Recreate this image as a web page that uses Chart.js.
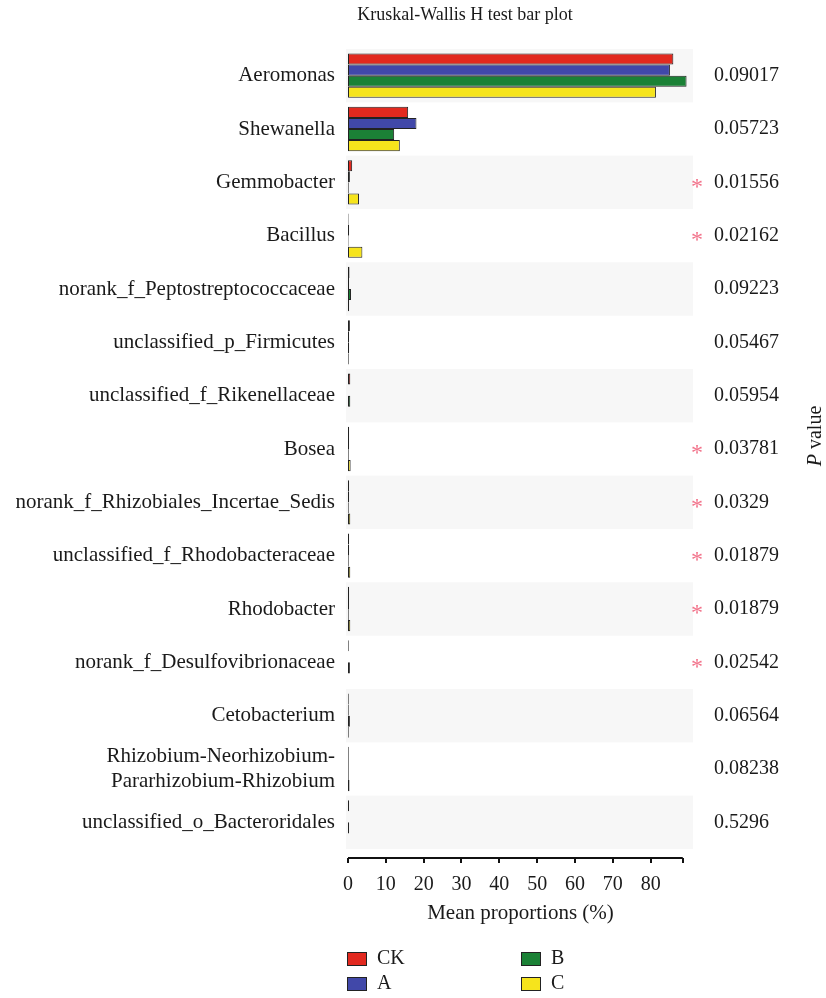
<!DOCTYPE html>
<html>
<head>
<meta charset="utf-8">
<title>Kruskal-Wallis H test bar plot</title>
<script src="https://cdn.jsdelivr.net/npm/chart.js@4"></script>
<style>
  html, body { margin: 0; padding: 0; background: #fff; }
  canvas { display: block; }
</style>
</head>
<body>
<canvas id="kwChart" width="826" height="998"></canvas>
<script>
// genera, top to bottom
const categories = [
    'Aeromonas',
    'Shewanella',
    'Gemmobacter',
    'Bacillus',
    'norank_f_Peptostreptococcaceae',
    'unclassified_p_Firmicutes',
    'unclassified_f_Rikenellaceae',
    'Bosea',
    'norank_f_Rhizobiales_Incertae_Sedis',
    'unclassified_f_Rhodobacteraceae',
    'Rhodobacter',
    'norank_f_Desulfovibrionaceae',
    'Cetobacterium',
    ['Rhizobium-Neorhizobium-', 'Pararhizobium-Rhizobium'],
    'unclassified_o_Bacteroridales'
];

// mean proportions (%)
const ckValues = [86.0, 15.9, 1.1, 0.15, 0.4, 0.5, 0.6, 0.3, 0.3, 0.3, 0.3, 0.2, 0.2, 0.2, 0.3];
const aValues  = [85.1, 18.1, 0.5, 0.3, 0.3, 0.3, 0.0, 0.3, 0.3, 0.3, 0.3, 0.0, 0.2, 0.2, 0.0];
const bValues  = [89.5, 12.2, 0.2, 0.15, 0.8, 0.3, 0.6, 0.2, 0.2, 0.2, 0.2, 0.5, 0.5, 0.2, 0.3];
const cValues  = [81.4, 13.7, 2.9, 3.8, 0.3, 0.2, 0.0, 0.7, 0.6, 0.6, 0.6, 0.0, 0.2, 0.4, 0.0];

const pValues = ['0.09017', '0.05723', '0.01556', '0.02162', '0.09223', '0.05467', '0.05954',
                 '0.03781', '0.0329', '0.01879', '0.01879', '0.02542', '0.06564', '0.08238', '0.5296'];

const xTicks = [0, 10, 20, 30, 40, 50, 60, 70, 80];

const FONT = '"Liberation Serif", "DejaVu Serif", serif';
const TEXT = '#1a1a1a';
const AXIS_END = 88.5;

Chart.defaults.font.family = FONT;
Chart.defaults.color = TEXT;

// light grey band behind every other row
const rowBands = {
    id: 'rowBands',
    beforeDatasetsDraw(chart) {
        const { ctx, chartArea, scales: { y } } = chart;
        const half = (y.getPixelForValue(1) - y.getPixelForValue(0)) / 2;
        ctx.save();
        ctx.fillStyle = '#f7f7f7';
        for (let i = 0; i < categories.length; i += 2) {
            const yc = y.getPixelForValue(i);
            ctx.fillRect(chartArea.left - 2, yc - half, chartArea.right - chartArea.left + 2, half * 2);
        }
        ctx.restore();
    }
};

// title, bottom axis, p values, legend
const extras = {
    id: 'extras',
    afterDraw(chart) {
        const { ctx, chartArea, scales: { x, y } } = chart;
        ctx.save();

        // title
        ctx.fillStyle = TEXT;
        ctx.font = '18px ' + FONT;
        ctx.textAlign = 'center';
        ctx.textBaseline = 'middle';
        ctx.fillText('Kruskal-Wallis H test bar plot', 465, 15);

        // x axis line with tick marks
        const axisY = chartArea.bottom + 9;
        ctx.strokeStyle = '#111';
        ctx.lineWidth = 2;
        ctx.beginPath();
        ctx.moveTo(x.getPixelForValue(0), axisY);
        ctx.lineTo(x.getPixelForValue(AXIS_END), axisY);
        xTicks.concat([AXIS_END]).forEach(v => {
            const px = Math.round(x.getPixelForValue(v));
            ctx.moveTo(px, axisY);
            ctx.lineTo(px, axisY + 5);
        });
        ctx.stroke();

        // p values and significance marks
        pValues.forEach((p, i) => {
            const yc = y.getPixelForValue(i);
            ctx.fillStyle = TEXT;
            ctx.font = '20px ' + FONT;
            ctx.textAlign = 'left';
            ctx.textBaseline = 'middle';
            ctx.fillText(p, chartArea.right + 21, yc);
            if (parseFloat(p) < 0.05) {
                ctx.fillStyle = '#f2728a';
                ctx.font = '24px ' + FONT;
                ctx.textAlign = 'center';
                ctx.fillText('*', chartArea.right + 4, yc + 5);
            }
        });

        // rotated "P value" label
        ctx.save();
        ctx.translate(816, (chartArea.top + chartArea.bottom) / 2 - 13);
        ctx.rotate(-Math.PI / 2);
        ctx.fillStyle = TEXT;
        ctx.textBaseline = 'middle';
        ctx.textAlign = 'left';
        ctx.font = 'italic 20px ' + FONT;
        const wP = ctx.measureText('P').width;
        ctx.font = '20px ' + FONT;
        const wRest = ctx.measureText(' value').width;
        const x0 = -(wP + wRest) / 2;
        ctx.font = 'italic 20px ' + FONT;
        ctx.fillText('P', x0, 0);
        ctx.font = '20px ' + FONT;
        ctx.fillText(' value', x0 + wP, 0);
        ctx.restore();

        // legend in two columns: CK, A | B, C
        const cols = [347, 521];
        const rows = [959, 984];
        chart.data.datasets.forEach((ds, i) => {
            const bx = cols[Math.floor(i / 2)];
            const by = rows[i % 2];
            ctx.fillStyle = ds.backgroundColor;
            ctx.fillRect(bx, by - 6.5, 19, 13);
            ctx.strokeStyle = '#222';
            ctx.lineWidth = 1;
            ctx.strokeRect(bx + 0.5, by - 6.5, 19, 13);
            ctx.fillStyle = TEXT;
            ctx.font = '20px ' + FONT;
            ctx.textAlign = 'left';
            ctx.textBaseline = 'middle';
            ctx.fillText(ds.label, bx + 30, by);
        });

        ctx.restore();
    }
};

const barStyle = { borderColor: '#222', borderWidth: 1, borderSkipped: false };

new Chart(document.getElementById('kwChart'), {
    type: 'bar',
    data: {
        labels: categories,
        datasets: [
            { label: 'CK', data: ckValues, backgroundColor: '#e2291f', ...barStyle },
            { label: 'A',  data: aValues,  backgroundColor: '#4148a9', ...barStyle },
            { label: 'B',  data: bValues,  backgroundColor: '#1b8136', ...barStyle },
            { label: 'C',  data: cValues,  backgroundColor: '#f6e41c', ...barStyle }
        ]
    },
    options: {
        indexAxis: 'y',
        responsive: false,
        animation: false,
        categoryPercentage: 0.83,
        barPercentage: 1.0,
        layout: { padding: { top: 49, right: 133, bottom: 72, left: 0 } },
        plugins: {
            legend: { display: false },
            tooltip: { enabled: false }
        },
        scales: {
            x: {
                min: 0,
                max: 91.2,
                grid: { display: false },
                border: { display: false },
                afterBuildTicks: axis => { axis.ticks = xTicks.map(v => ({ value: v })); },
                afterFit: s => { s.height = 77; },
                ticks: {
                    padding: 16,
                    maxRotation: 0,
                    font: { size: 20 },
                    color: TEXT
                },
                title: {
                    display: true,
                    text: 'Mean proportions (%)',
                    font: { size: 21 },
                    color: TEXT,
                    padding: { top: 10, bottom: 0 }
                }
            },
            y: {
                grid: { display: false },
                border: { display: false },
                afterFit: s => { s.width = 348; },
                ticks: {
                    autoSkip: false,
                    padding: 5,
                    font: { size: 21 },
                    color: TEXT
                }
            }
        }
    },
    plugins: [rowBands, extras]
});
</script>
</body>
</html>
